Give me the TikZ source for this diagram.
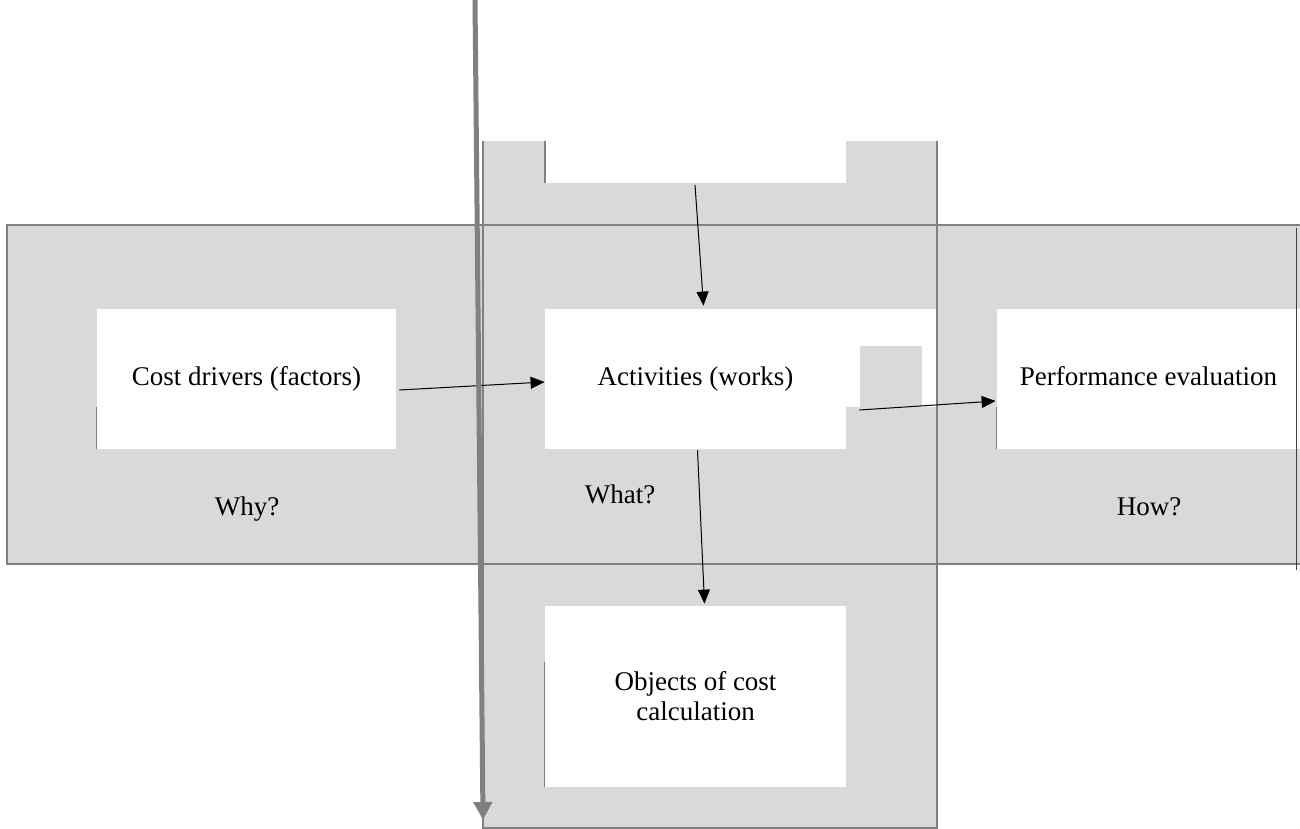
\documentclass[tikz,border=0pt]{standalone}
\usepackage{fontspec}
\setmainfont{Liberation Serif}
\usetikzlibrary{arrows.meta}

\definecolor{panelgray}{HTML}{D9D9D9}
\definecolor{rimgray}{HTML}{808080}

\begin{document}
\begin{tikzpicture}[
  x = 0.5pt, y = -0.5pt,
  every node/.style = {font = \fontsize{13.5}{15}\selectfont},
  box/.style = {fill = white, inner sep = 0pt, align = center},
  oneline/.style = {text height = 0.8em, text depth = 0.13em},
  rim/.style = {draw = rimgray, line width = 0.75pt},
  tick/.style = {draw = rimgray, line width = 0.6pt},
  link/.style = {draw = black, line width = 0.5pt, -{Triangle[width = 6pt, length = 7pt]}},
  flow/.style = {draw = rimgray, line width = 2.5pt, -{Triangle[width = 9pt, length = 9pt]}},
  ]
  \useasboundingbox (0,0) rectangle (1300,829);

  % gray band and column
  \fill[panelgray] (7,225) rectangle (1300,564);
  \fill[panelgray] (483,141) rectangle (937,828);
  \fill[white] (545,141) rectangle (846,183);
  \fill[white] (846,309) rectangle (937,407);
  \fill[panelgray] (860,346) rectangle (922,407);

  \node[box, oneline, minimum width = 149.5pt, minimum height = 70pt] (cost) at (246.5,379) {Cost drivers (factors)};
  \node[box, oneline, minimum width = 150.5pt, minimum height = 70pt] (act) at (695.5,379) {Activities (works)};
  \node[box, oneline, minimum width = 151.5pt, minimum height = 70pt] (perf) at (1148.5,379) {Performance evaluation};
  \node[box, minimum width = 150.5pt, minimum height = 90.5pt] (obj) at (695.5,696.5) {Objects of cost\\calculation};
  \node[anchor = base] (why) at (247,515) {Why?};
  \node[anchor = base] (what) at (620,503) {What?};
  \node[anchor = base] (how) at (1149,515) {How?};

  \draw[rim] (1300,225) -- (7,225) -- (7,564) -- (1300,564);
  \draw[rim] (483,141) -- (483,828) -- (937,828) -- (937,141);
  \draw[rim] (545,141) -- (545,183);
  \draw[tick] (cost.south west) -- ++(0,-42);
  \draw[tick] (perf.south west) -- ++(0,-42);
  \draw[tick] (obj.south west) -- ++(0,-125);
  \draw[black!75, line width = 0.5pt] (1296,228) -- (1296,570);

  \coordinate (notch) at (695,185);
  \draw[link] ([shift={(3,11)}]cost.east) -- ([shift={(0,3)}]act.west);
  \draw[link] (notch) -- ([shift={(8,-3)}]act.north);
  \draw[link] ([shift={(2,1)}]act.south) -- ([shift={(9,-2)}]obj.north);
  \draw[link] ([shift={(13,31)}]act.east) -- ([shift={(-1,22)}]perf.west);

  \coordinate (flowtop) at (475,0);
  \coordinate (flowend) at (483,820);
  \draw[flow] (flowtop) -- (flowend);
\end{tikzpicture}
\end{document}
